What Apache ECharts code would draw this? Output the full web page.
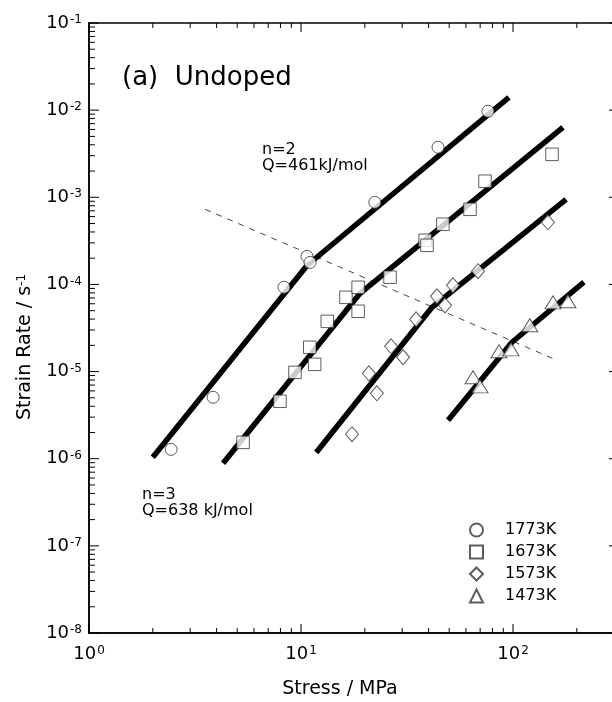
<!DOCTYPE html>
<html><head><meta charset="utf-8">
<script src="https://cdn.jsdelivr.net/npm/echarts@6/dist/echarts.min.js"></script>
<style>html,body{margin:0;padding:0;background:#fff}#c{width:612px;height:702px}</style>
</head><body><div id="c"></div>
<script>
const FONT = 'DejaVu Sans';

// Data: [stress (MPa), strain rate (1/s)]
const pts1773 = [[2.44,1.28e-6],[3.85,5.07e-6],[8.31,9.27e-5],[10.67,2.10e-4],[11.03,1.79e-4],[22.3,8.75e-4],[44.3,3.75e-3],[76.2,9.7e-3]];
const pts1673 = [[5.33,1.54e-6],[7.96,4.56e-6],[9.37,9.8e-6],[11.0,1.90e-5],[11.6,1.21e-5],[13.3,3.77e-5],[16.3,7.11e-5],[18.6,9.27e-5],[18.6,4.92e-5],[26.3,1.21e-4],[38.5,3.21e-4],[39.3,2.81e-4],[46.7,4.90e-4],[62.7,7.28e-4],[73.8,1.53e-3],[152.8,3.11e-3]];
const pts1573 = [[17.4,1.91e-6],[20.9,9.55e-6],[22.8,5.63e-6],[26.6,1.95e-5],[30.3,1.46e-5],[34.9,3.98e-5],[43.8,7.31e-5],[47.8,5.75e-5],[52.1,9.77e-5],[68.4,1.42e-4],[146,5.16e-4]];
const pts1473 = [[64.8,8.59e-6],[69.9,6.77e-6],[85.9,1.71e-5],[97.9,1.80e-5],[120,3.40e-5],[154.5,6.23e-5],[181.7,6.40e-5]];

// Fitted lines (n=3 segment then n=2 segment)
const fit1773 = [[2.0,1.04e-6],[10.7,1.66e-4],[95.7,1.40e-2]];
const fit1673 = [[4.29,8.85e-7],[19.0,7.9e-5],[172,6.35e-3]];
const fit1573 = [[11.8,1.18e-6],[41.5,5.46e-5],[178,9.48e-4]];
const fit1473 = [[49.4,2.76e-6],[98.9,2.17e-5],[216,1.06e-4]];
const boundary = [[3.53,7.28e-4],[161,1.35e-5]];

const seriesNames = ['1773K','1673K','1573K','1473K'];

const xMajorTicks = [1, 10, 100];
const yMajorTicks = [1e-8,1e-7,1e-6,1e-5,1e-4,1e-3,1e-2,1e-1];
const minorMultipliers = [2,3,4,5,6,7,8,9];
const xMinorTicks = [];
[1,10,100].forEach(d => minorMultipliers.forEach(m => { if (d*m < 316) xMinorTicks.push(d*m); }));
const yMinorTicks = [];
[1e-8,1e-7,1e-6,1e-5,1e-4,1e-3,1e-2].forEach(d => minorMultipliers.forEach(m => yMinorTicks.push(d*m)));

function powLabel(v) {
  const e = Math.log10(v);
  if (Math.abs(e - Math.round(e)) > 1e-6) return '';
  return '10{sup|' + Math.round(e) + '}';
}
const labelRich = {sup: {fontSize: 12, fontFamily: FONT, color: '#000', verticalAlign: 'top', padding: [0,0,0,1]}};

function tickSeries(values, dir, len) {
  return {
    type: 'custom', silent: true, clip: false, z: 5,
    encode: {x: 0, y: 1},
    data: values.map(v => dir === 'x' ? [v, 1e-4] : [10, v]),
    renderItem(params, api) {
      const cs = params.coordSys;
      const p = api.coord([api.value(0), api.value(1)]);
      const st = {stroke: '#000', lineWidth: 1};
      if (dir === 'x') {
        const x = p[0];
        return {type: 'group', children: [
          {type: 'line', shape: {x1: x, y1: cs.y + cs.height, x2: x, y2: cs.y + cs.height - len}, style: st},
          {type: 'line', shape: {x1: x, y1: cs.y, x2: x, y2: cs.y + len}, style: st}
        ]};
      }
      const y = p[1];
      return {type: 'group', children: [
        {type: 'line', shape: {x1: cs.x, y1: y, x2: cs.x + len, y2: y}, style: st},
        {type: 'line', shape: {x1: cs.x + cs.width, y1: y, x2: cs.x + cs.width - len, y2: y}, style: st}
      ]};
    }
  };
}

function fitSeries(data) {
  return {type: 'line', data, symbol: 'none', silent: true, z: 3,
    lineStyle: {color: '#000', width: 5.5, cap: 'butt', join: 'round'}};
}
const markerSizes = {circle: 12, rect: 12.5, diamond: [13, 15], triangle: [16, 13]};
function scatterSeries(name, data, symbol) {
  return {type: 'scatter', name, data, symbol, symbolSize: markerSizes[symbol], z: 6,
    itemStyle: {color: '#fff', borderColor: '#333', borderWidth: 1}};
}

const chart = echarts.init(document.getElementById('c'), null, {renderer: 'canvas'});
chart.setOption({
  animation: false,
  backgroundColor: '#fff',
  grid: {left: 89, top: 23, width: 530, height: 610, show: true, borderColor: '#000', borderWidth: 1.5,
    backgroundColor: 'transparent', containLabel: false, outerBoundsMode: 'none'},
  xAxis: {
    type: 'log', logBase: 10, min: 1, max: Math.pow(10, 2.5),
    axisLine: {show: true, onZero: false, lineStyle: {color: '#000', width: 1.5}},
    axisTick: {show: false}, splitLine: {show: false},
    axisLabel: {formatter: powLabel, margin: 12, color: '#000', fontSize: 18, fontFamily: FONT, rich: labelRich, showMinLabel: true, showMaxLabel: true},
    name: 'Stress / MPa', nameLocation: 'middle', nameGap: 47,
    nameTextStyle: {fontFamily: FONT, fontSize: 19, color: '#000', padding: [0, 28, 0, 0]}
  },
  yAxis: {
    type: 'log', logBase: 10, min: 1e-8, max: 1e-1,
    axisLine: {show: true, onZero: false, lineStyle: {color: '#000', width: 1.5}},
    axisTick: {show: false}, splitLine: {show: false},
    axisLabel: {formatter: powLabel, margin: 7, color: '#000', fontSize: 18, fontFamily: FONT, rich: labelRich},
    name: 'Strain Rate / s{sup|-1}', nameLocation: 'middle', nameGap: 54,
    nameTextStyle: {fontFamily: FONT, fontSize: 19, color: '#000', padding: [0, 38, 0, 0],
      rich: {sup: {fontSize: 12, fontFamily: FONT, color: '#000', verticalAlign: 'top'}}}
  },
  legend: {
    orient: 'vertical', left: 464, top: 517, itemWidth: 13, itemHeight: 13, itemGap: 6,
    data: seriesNames, selectedMode: false,
    textStyle: {fontFamily: FONT, fontSize: 16, color: '#000', padding: [0, 0, 0, 17]}
  },
  graphic: [
    {type: 'text', left: 122, top: 65, style: {text: '(a)  Undoped', font: '26px "DejaVu Sans"', fill: '#000'}},
    {type: 'text', left: 262, top: 142, style: {text: 'n=2\nQ=461kJ/mol', font: '16px "DejaVu Sans"', lineHeight: 16, fill: '#000'}},
    {type: 'text', left: 142, top: 487, style: {text: 'n=3\nQ=638 kJ/mol', font: '16px "DejaVu Sans"', lineHeight: 16, fill: '#000'}}
  ],
  series: [
    tickSeries(xMajorTicks, 'x', 9),
    tickSeries(xMinorTicks, 'x', 5),
    tickSeries(yMajorTicks, 'y', 10),
    tickSeries(yMinorTicks, 'y', 6),
    {type: 'line', data: boundary, symbol: 'none', silent: true, z: 2,
      lineStyle: {color: '#444', width: 1, type: [6, 6]}},
    fitSeries(fit1773), fitSeries(fit1673), fitSeries(fit1573), fitSeries(fit1473),
    scatterSeries('1773K', pts1773, 'circle'),
    scatterSeries('1673K', pts1673, 'rect'),
    scatterSeries('1573K', pts1573, 'diamond'),
    scatterSeries('1473K', pts1473, 'triangle')
  ]
});
</script></body></html>
